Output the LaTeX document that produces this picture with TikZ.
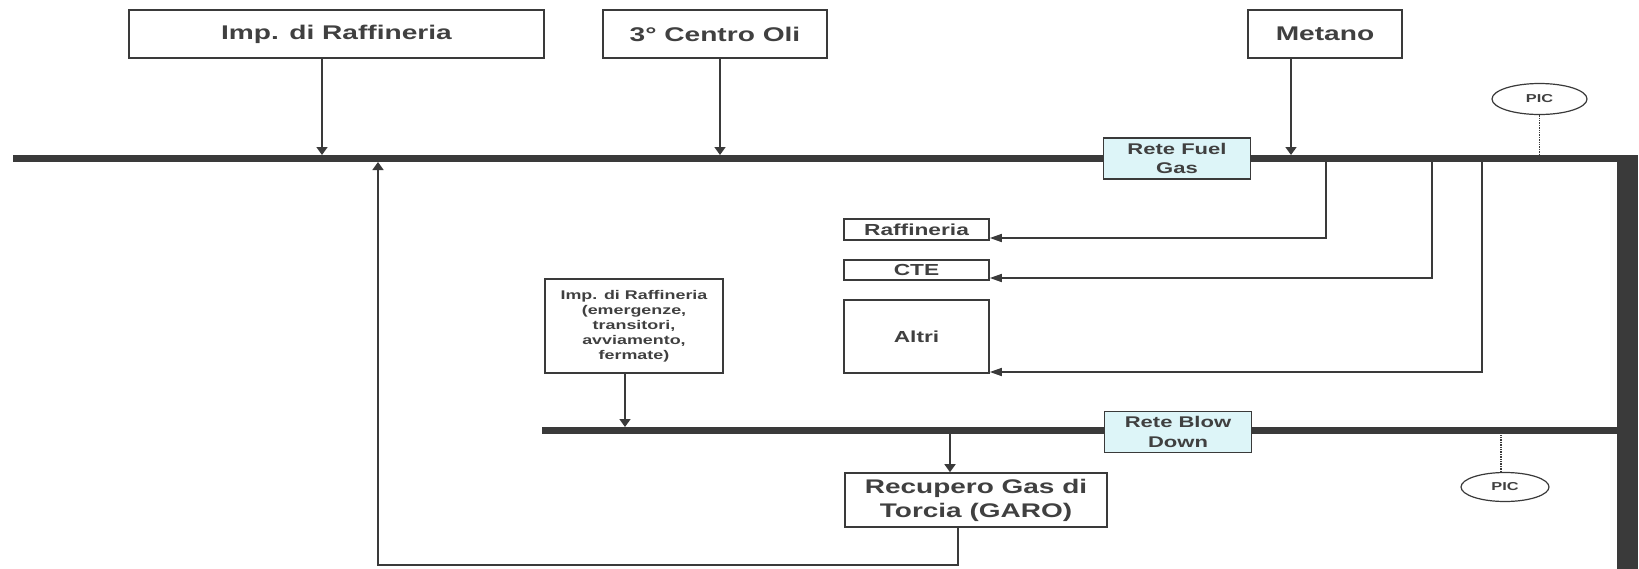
\documentclass[tikz,border=0pt]{standalone}
\usepackage{fontspec}
\newfontfamily\diag[FakeStretch=1.42]{Liberation Sans}
\usetikzlibrary{arrows.meta,shapes.geometric}
\definecolor{ink}{HTML}{3A3A3A}
\definecolor{txt}{HTML}{404040}
\definecolor{cyanbox}{HTML}{DDF5F8}
\begin{document}
\begin{tikzpicture}[x=1pt,y=-1pt,
  box/.style={draw=ink, line width=1.6pt, fill=white, inner sep=0pt, align=center, text=txt},
  topbox/.style={box, minimum height=48pt, font=\diag\bfseries\fontsize{19.8}{23}\selectfont},
  netbox/.style={box, fill=cyanbox, minimum width=147pt, minimum height=41pt, font=\diag\bfseries\fontsize{15.5}{19.5}\selectfont},
  lowbox/.style={box, minimum width=145pt, font=\diag\bfseries\fontsize{16}{19}\selectfont},
  picell/.style={draw=ink, line width=1.2pt, ellipse, fill=white, inner sep=0pt, text=txt, font=\diag\bfseries\fontsize{11.5}{13}\selectfont},
  bar/.style={draw=ink, line width=7pt},
  varr/.style={draw=ink, line width=1.6pt, -{Triangle[length=8pt,width=11pt]}},
  harr/.style={draw=ink, line width=1.6pt, -{Triangle[length=12pt,width=8pt]}},
  dotline/.style={draw=ink, line width=1.4pt, densely dotted}
]
\useasboundingbox (0,0) rectangle (1639,568);
% coordinates
\coordinate (fgL) at (13,158.5);
\coordinate (fgR) at (1620,158.5);
\coordinate (fgtop) at (0,155);
\coordinate (bdL) at (542,430.5);
\coordinate (bdR) at (1620,430.5);
\coordinate (bdtop) at (0,427);
\coordinate (bdbot) at (0,434);
\coordinate (br1) at (1326,158.5);
\coordinate (br2) at (1432,158.5);
\coordinate (br3) at (1482,158.5);
\coordinate (g1) at (950,434);
\coordinate (rb) at (378,565);
\coordinate (rt) at (378,162);
% bars
\draw[bar] (fgL) -- (fgR);
\draw[bar] (bdL) -- (bdR);
\node[fill=ink, minimum width=21pt, minimum height=414pt, inner sep=0pt, anchor=north west] (vbar) at (1617,154.5) {};
% top boxes
\node[topbox, minimum width=415pt] (impT) at (336.5,34) {Imp. di Raffineria};
\node[topbox, minimum width=224pt] (centro) at (715,34) {3° Centro Oli};
\node[topbox, minimum width=154pt] (metano) at (1325,34) {Metano};
% networks
\node[netbox] (rfg) at (1177,158.5) {Rete Fuel\\Gas};
\node[netbox] (rbd) at (1178,432) {Rete Blow\\Down};
% PIC
\node[picell, minimum width=95pt, minimum height=31pt] (pic1) at (1539.5,99) {PIC};
\node[picell, minimum width=88pt, minimum height=29pt] (pic2) at (1505,487) {PIC};
% users
\node[lowbox, minimum height=21pt] (raff) at (916.5,229.5) {Raffineria};
\node[lowbox, minimum height=20pt] (cte) at (916.5,270) {CTE};
\node[lowbox, minimum height=73pt] (altri) at (916.5,336.5) {Altri};
\node[box, minimum width=178pt, minimum height=94pt, font=\diag\bfseries\fontsize{12.6}{15}\selectfont] (emerg) at (634,326) {Imp. di Raffineria\\(emergenze,\\transitori,\\avviamento,\\fermate)};
\node[box, minimum width=262pt, minimum height=54pt, font=\diag\bfseries\fontsize{19.7}{24}\selectfont] (garo) at (976,500) {Recupero Gas di\\Torcia (GARO)};
% connectors
\draw[varr] ([xshift=-14.5pt]impT.south) -- ([xshift=-14.5pt]impT.south |- fgtop);
\draw[varr] ([xshift=5pt]centro.south) -- ([xshift=5pt]centro.south |- fgtop);
\draw[varr] ([xshift=-34pt]metano.south) -- ([xshift=-34pt]metano.south |- fgtop);
\draw[harr] (br1) |- ([yshift=-8.5pt]raff.east);
\draw[harr] (br2) |- ([yshift=-8pt]cte.east);
\draw[harr] (br3) |- ([yshift=-35.5pt]altri.east);
\draw[varr] ([xshift=-9pt]emerg.south) -- ([xshift=-9pt]emerg.south |- bdtop);
\draw[varr] (g1) -- (g1 |- garo.north);
\draw[varr] ([xshift=-18pt]garo.south) |- (rb) -- (rt);
\draw[dotline] (pic1.south) -- (pic1.south |- fgtop);
\draw[dotline] ([xshift=-4pt]pic2.north) -- ([xshift=-4pt]pic2.north |- bdbot);
\end{tikzpicture}
\end{document}
